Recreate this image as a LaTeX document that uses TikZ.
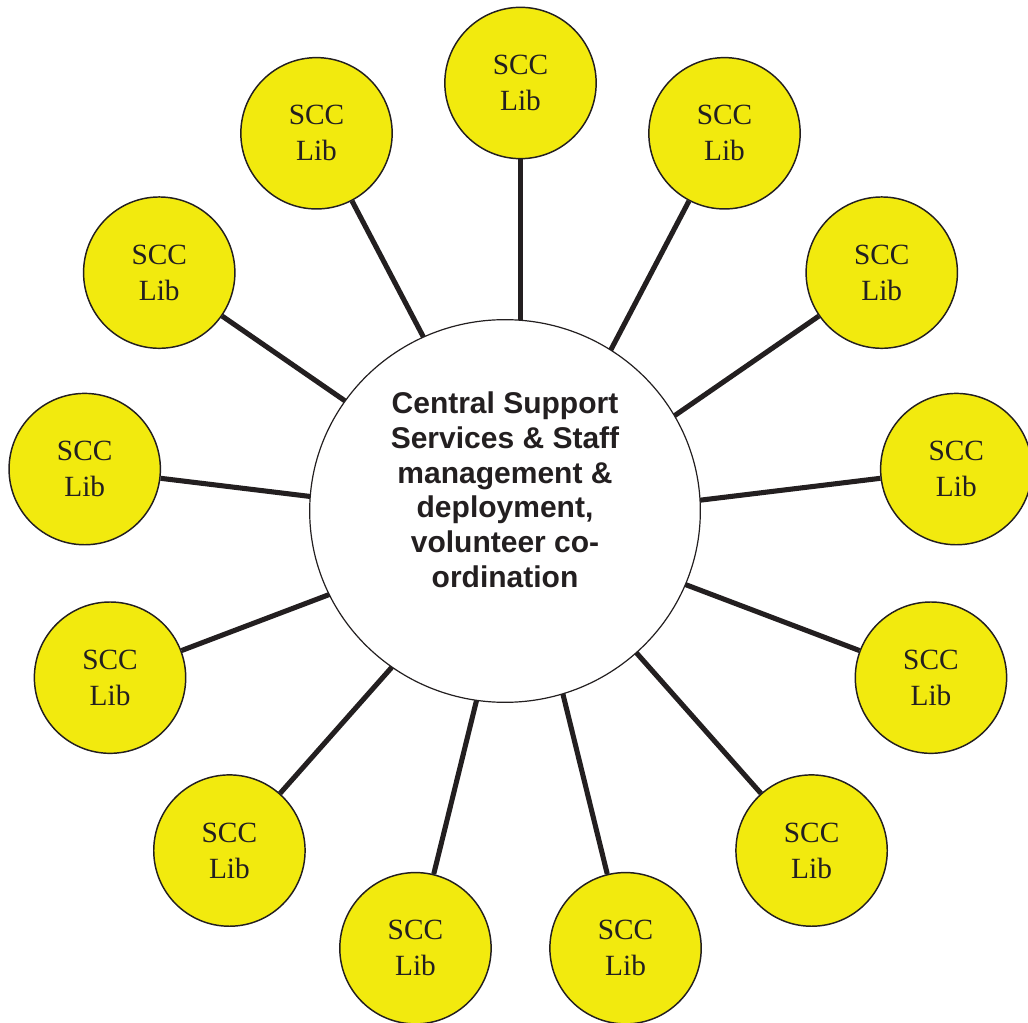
\documentclass[tikz,border=0pt]{standalone}
\usepackage{fontspec}
\setmainfont{Liberation Serif}
\setsansfont{Liberation Sans}
\usetikzlibrary{shapes.geometric, calc}

\definecolor{libyellow}{RGB}{242,234,14}
\definecolor{inkblack}{RGB}{35,31,32}

\begin{document}
\begin{tikzpicture}[
    x=0.75pt, y=-0.75pt,
    library/.style={circle, draw=inkblack, line width=1.1pt, fill=libyellow, minimum size=113.5pt,
                    inner sep=0pt, align=center, text=inkblack, font=\fontsize{22}{26.8}\selectfont},
    hubcircle/.style={ellipse, draw=inkblack, line width=0.9pt, fill=white,
                      minimum width=293pt, minimum height=287pt},
    spoke/.style={draw=inkblack, line width=3.8pt}
]

% Page frame
\useasboundingbox (0,0) rectangle (1028,1023);

% Point where the spokes meet
\coordinate (hub) at (520.5,522);

% Library circles
\foreach \i in {0,...,12} {
    \node[library] (lib\i) at ($(hub)+(-90+\i*360/13:439)$) {SCC\\Lib};
}

% Spokes
\foreach \i in {0,...,12} {
    \draw[spoke] (lib\i) -- (hub);
}

% Central circle
\node[hubcircle] (support) at (505,511) {};
\node[align=center, font=\sffamily\bfseries\fontsize{22.5}{26.1}\selectfont, text=inkblack]
    (supporttext) at (505,489.7) {Central Support\\Services \& Staff\\management \&\\deployment,\\volunteer co-\\ordination};

\end{tikzpicture}
\end{document}
